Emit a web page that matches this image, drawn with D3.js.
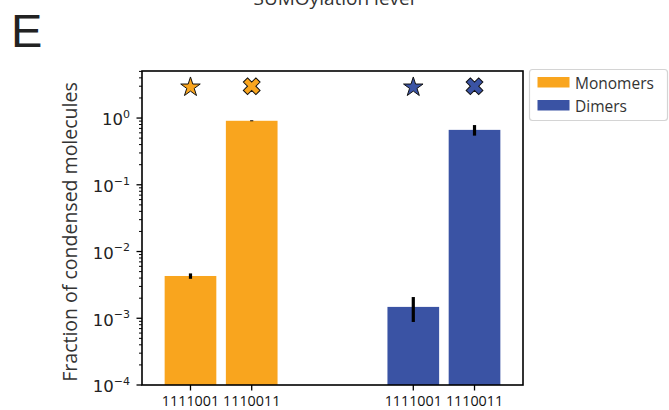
<!DOCTYPE html>
<html>
<head>
<meta charset="utf-8">
<script src="https://cdn.jsdelivr.net/npm/d3@7"></script>
<style>
body { margin: 0; background: #fff; }
svg { display: block; }
</style>
</head>
<body>
<svg id="chart" width="669" height="410"></svg>
<script>
// ---- data ----
const groups = ["Monomers", "Dimers"];
const sequences = ["1111001", "1110011"];
const monomerValues = [0.0043, 0.91];
const monomerErrors = [0.0004, 0.015];
const dimerValues = [0.00148, 0.665];
const dimerErrors = [0.0006, 0.12];
const markerShapes = ["star", "x"];      // per sequence
const markerLevel = 3;
const yTickExponents = [-4, -3, -2, -1, 0];
const panelLetter = "E";
const topTitle = "SUMOylation level";
const yLabel = "Fraction of condensed molecules";

const colors = { Monomers: "#f9a51e", Dimers: "#3a53a4" };

const svg = d3.select("#chart");
const L = 142, R = 523, T = 71, B = 385;

const rows = [];
groups.forEach(g => {
  const vals = g === "Monomers" ? monomerValues : dimerValues;
  const errs = g === "Monomers" ? monomerErrors : dimerErrors;
  sequences.forEach((s, i) => rows.push({ group: g, seq: s, value: vals[i], err: errs[i], marker: markerShapes[i] }));
});

const xGroup = d3.scalePoint().domain(groups).range([L, R]).padding(0.355);
const xInner = d3.scaleBand().domain(sequences).range([-66, 66]).padding(0.156);
const y = d3.scaleLog().domain([1e-4, Math.pow(10, 0.705)]).range([B, T]);
const cx = d => xGroup(d.group) + xInner(d.seq) + xInner.bandwidth() / 2;

// bars
svg.append("g").selectAll("rect").data(rows).join("rect")
  .attr("x", d => xGroup(d.group) + xInner(d.seq))
  .attr("width", xInner.bandwidth())
  .attr("y", d => y(d.value))
  .attr("height", d => B - y(d.value))
  .attr("fill", d => colors[d.group]);

// error bars
svg.append("g").selectAll("line").data(rows).join("line")
  .attr("x1", cx).attr("x2", cx)
  .attr("y1", d => y(d.value + d.err))
  .attr("y2", d => y(d.value - d.err))
  .attr("stroke", "#000").attr("stroke-width", 3.2);

// markers
const starSym = d3.symbol(d3.symbolStar, 118);
const xSym = d3.symbol(d3.symbolCross, 175);
svg.append("g").selectAll("path").data(rows).join("path")
  .attr("d", d => d.marker === "star" ? starSym() : xSym())
  .attr("transform", d => `translate(${cx(d)},${y(markerLevel) + (d.marker === "star" ? 1 : 0)}) rotate(${d.marker === "x" ? 45 : 0})`)
  .attr("fill", d => colors[d.group])
  .attr("stroke", "#111").attr("stroke-width", 1)
  .attr("stroke-linejoin", "miter");

// y axis ticks (major + minor)
const yAxisG = svg.append("g");
const minor = [];
for (let e = -4; e <= 0; e++) for (let m = 2; m <= 9; m++) { const v = m * Math.pow(10, e); if (v <= y.domain()[1]) minor.push(v); }
yAxisG.selectAll("line.minor").data(minor).join("line")
  .attr("x1", L - 3).attr("x2", L).attr("y1", d => y(d)).attr("y2", d => y(d))
  .attr("stroke", "#000").attr("stroke-width", 1);
yAxisG.selectAll("line.major").data(yTickExponents).join("line")
  .attr("x1", L - 5.5).attr("x2", L).attr("y1", d => y(Math.pow(10, d))).attr("y2", d => y(Math.pow(10, d)))
  .attr("stroke", "#000").attr("stroke-width", 1.3);
const lbl = yAxisG.selectAll("text").data(yTickExponents).join("text")
  .attr("x", 130).attr("y", d => y(Math.pow(10, d)) + 7.3)
  .attr("text-anchor", "end")
  .attr("font-family", "DejaVu Sans").attr("font-size", 16.5).attr("fill", "#222");
lbl.append("tspan").text("10");
lbl.append("tspan").attr("dy", -7.5).attr("font-size", 11).text(d => d === 0 ? "0" : "\u2212" + Math.abs(d));

// x axis ticks
const xAxisG = svg.append("g");
xAxisG.selectAll("line").data(rows).join("line")
  .attr("x1", cx).attr("x2", cx).attr("y1", B).attr("y2", B + 5.5)
  .attr("stroke", "#000").attr("stroke-width", 1.3);
xAxisG.selectAll("text").data(rows).join("text")
  .attr("x", cx).attr("y", 405.5)
  .attr("text-anchor", "middle")
  .attr("font-family", "Open Sans").attr("font-size", 14.3).attr("fill", "#111")
  .text(d => d.seq);

// frame
svg.append("rect").attr("x", L).attr("y", T).attr("width", R - L).attr("height", B - T)
  .attr("fill", "none").attr("stroke", "#000").attr("stroke-width", 1.6);

// y label
svg.append("text")
  .attr("transform", `translate(76.5,${(T + B) / 2 + 4}) rotate(-90)`)
  .attr("text-anchor", "middle")
  .attr("font-family", "Open Sans").attr("font-size", 19.5).attr("fill", "#333")
  .text(yLabel);

// panel letter
svg.append("text").attr("x", 11).attr("y", 47)
  .attr("font-family", "Liberation Sans").attr("font-size", 47).attr("fill", "#222")
  .text(panelLetter);

// top title (cut off by the top edge, as in the reference)
svg.append("text").attr("x", 334).attr("y", 4.5)
  .attr("text-anchor", "middle")
  .attr("font-family", "Open Sans").attr("font-size", 19).attr("fill", "#333")
  .text(topTitle);

// legend
const lg = svg.append("g");
lg.append("rect").attr("x", 529.5).attr("y", 69.5).attr("width", 138).attr("height", 51)
  .attr("rx", 3).attr("fill", "#fff").attr("stroke", "#d4d4d4").attr("stroke-width", 1.2);
const items = lg.selectAll("g").data(groups).join("g")
  .attr("transform", (d, i) => `translate(0,${i * 23})`);
items.append("rect").attr("x", 537.5).attr("y", 77).attr("width", 32).attr("height", 10.5)
  .attr("fill", d => colors[d]);
items.append("text").attr("x", 575).attr("y", 88.5)
  .attr("font-family", "Open Sans").attr("font-size", 15.5).attr("fill", "#333")
  .text(d => d);
</script>
</body>
</html>
